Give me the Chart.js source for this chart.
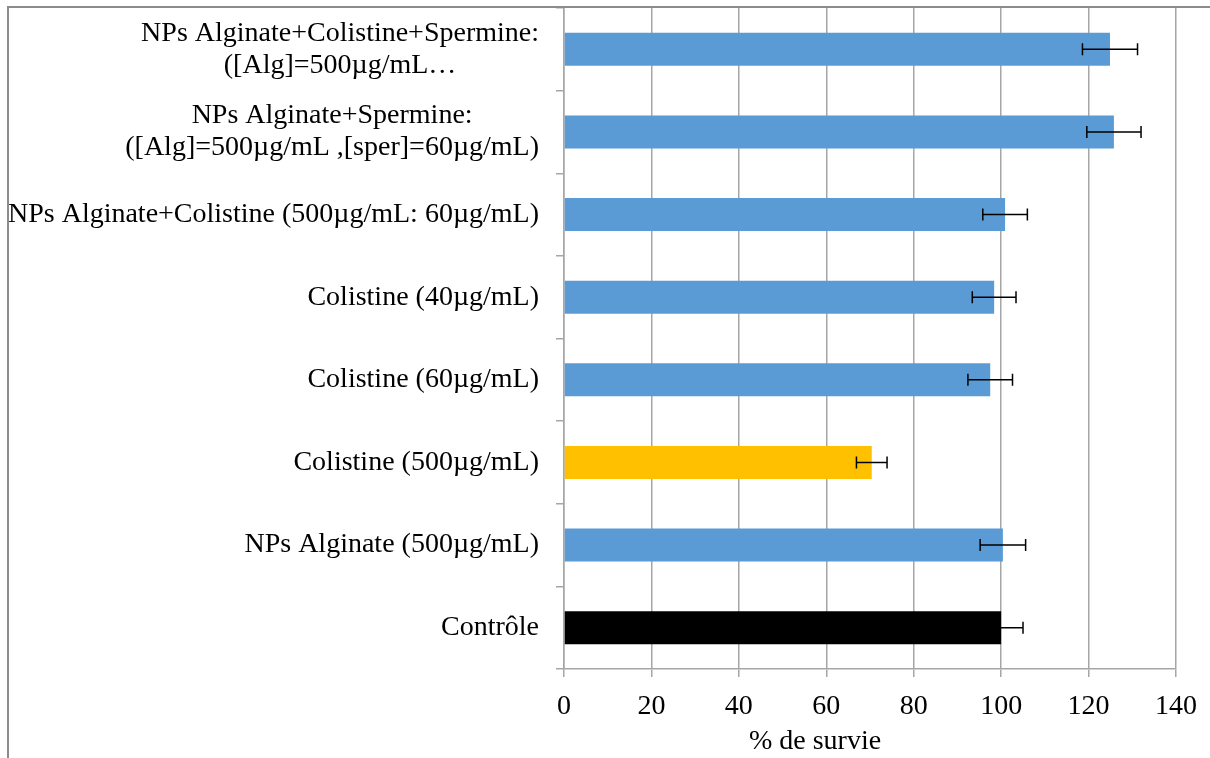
<!DOCTYPE html>
<html>
<head>
  <title>% de survie</title>
  <script src="https://cdn.jsdelivr.net/npm/chart.js"></script>
  <style>
    body { margin: 0; background: #fff; }
    #cadre { position: relative; width: 1210px; height: 758px; }
  </style>
</head>
<body>
  <div id="cadre"><canvas id="graphique"></canvas></div>

  <script>
    // Données (de haut en bas)
    const categories = [
      ["NPs Alginate+Colistine+Spermine:", "([Alg]=500µg/mL…"],
      ["NPs Alginate+Spermine:", "([Alg]=500µg/mL ,[sper]=60µg/mL)"],
      "NPs Alginate+Colistine (500µg/mL: 60µg/mL)",
      "Colistine (40µg/mL)",
      "Colistine (60µg/mL)",
      "Colistine (500µg/mL)",
      "NPs Alginate (500µg/mL)",
      "Contrôle"
    ];
    const survie = [124.9, 125.8, 100.9, 98.4, 97.5, 70.4, 100.4, 100];
    const erreurs = [6.3, 6.2, 5.1, 5.0, 5.1, 3.5, 5.2, 5.0];
    const couleurs = ["#5B9BD5", "#5B9BD5", "#5B9BD5", "#5B9BD5", "#5B9BD5", "#FFC000", "#5B9BD5", "#000000"];
    const ticksX = [0, 20, 40, 60, 80, 100, 120, 140];
    const titreX = "% de survie";

    const police = '"Liberation Serif", serif';

    // Barres d'erreur, étiquettes centrées et cadre
    const dessin = {
      id: "dessin",
      afterDatasetsDraw(chart) {
        const ctx = chart.ctx;
        const x = chart.scales.x;
        const y = chart.scales.y;
        ctx.save();

        ctx.strokeStyle = "#000";
        ctx.lineWidth = 1.5;
        survie.forEach((v, i) => {
          const py = y.getPixelForValue(i);
          const x1 = x.getPixelForValue(v - erreurs[i]);
          const x2 = x.getPixelForValue(v + erreurs[i]);
          ctx.beginPath();
          ctx.moveTo(x1, py); ctx.lineTo(x2, py);
          ctx.moveTo(x1, py - 6); ctx.lineTo(x1, py + 6);
          ctx.moveTo(x2, py - 6); ctx.lineTo(x2, py + 6);
          ctx.stroke();
        });

        ctx.font = "28px " + police;
        ctx.fillStyle = "#000";
        ctx.textAlign = "center";
        ctx.textBaseline = "middle";
        categories.forEach((lab, i) => {
          const lignes = Array.isArray(lab) ? lab : [lab];
          const w = Math.max(...lignes.map(l => ctx.measureText(l).width));
          const cx = y.right - 25 - w / 2;
          const py = y.getPixelForValue(i);
          lignes.forEach((l, k) => ctx.fillText(l, cx, py + (k - (lignes.length - 1) / 2) * 32));
        });
        ctx.fillText(titreX, 815, 742);

        ctx.strokeStyle = "#8c8c8c";
        ctx.lineWidth = 2;
        ctx.beginPath();
        ctx.moveTo(8, 758); ctx.lineTo(8, 7); ctx.lineTo(1210, 7);
        ctx.stroke();
        ctx.restore();
      }
    };

    const graphique = document.getElementById("graphique").getContext("2d");
    new Chart(graphique, {
      type: "bar",
      data: {
        labels: categories,
        datasets: [{
          data: survie,
          backgroundColor: couleurs,
          borderWidth: 0,
          barPercentage: 0.4,
          categoryPercentage: 1
        }]
      },
      plugins: [dessin],
      options: {
        indexAxis: "y",
        responsive: true,
        maintainAspectRatio: false,
        animation: false,
        layout: { padding: { top: 8, right: 34, left: 0, bottom: 0 } },
        plugins: { legend: { display: false }, tooltip: { enabled: false } },
        scales: {
          x: {
            min: 0,
            max: 140,
            afterBuildTicks: s => { s.ticks = ticksX.map(v => ({ value: v })); },
            afterFit: s => { s.height = 89; },
            grid: { color: "#a6a6a6", lineWidth: 1.5, tickLength: 8 },
            border: { color: "#a6a6a6", width: 1.5 },
            ticks: { color: "#000", font: { family: police, size: 28 }, padding: 13, maxRotation: 0 }
          },
          y: {
            afterFit: s => { s.width = 564; },
            grid: { drawOnChartArea: false, color: "#a6a6a6", lineWidth: 1.5, tickLength: 8, offset: true },
            border: { color: "#a6a6a6", width: 1.5 },
            ticks: { display: false }
          }
        }
      }
    });
  </script>
</body>
</html>
